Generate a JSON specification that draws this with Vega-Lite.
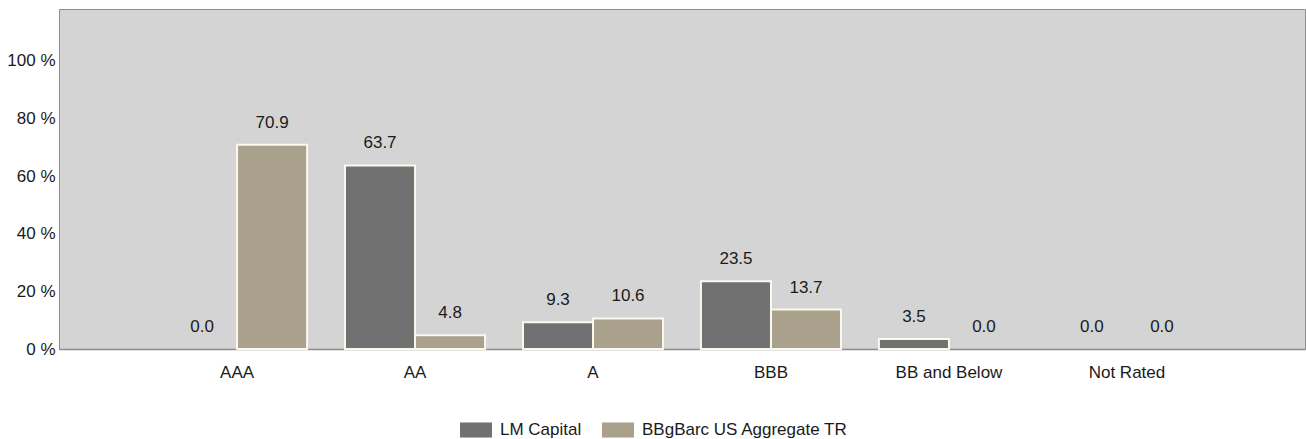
{
  "$schema": "https://vega.github.io/schema/vega-lite/v6.json",
  "width": 1246,
  "height": 340,
  "autosize": {"type": "none"},
  "padding": {"left": 59, "top": 9, "right": 1, "bottom": 90},
  "background": "#ffffff",
  "config": {
    "font": "Liberation Sans",
    "view": {"fill": "#d4d4d4", "stroke": "#8e8e8e", "strokeWidth": 1}
  },
  "data": {
    "values": [
      {"rating": "AAA", "series": "LM Capital", "value": 0.0},
      {"rating": "AAA", "series": "BBgBarc US Aggregate TR", "value": 70.9},
      {"rating": "AA", "series": "LM Capital", "value": 63.7},
      {"rating": "AA", "series": "BBgBarc US Aggregate TR", "value": 4.8},
      {"rating": "A", "series": "LM Capital", "value": 9.3},
      {"rating": "A", "series": "BBgBarc US Aggregate TR", "value": 10.6},
      {"rating": "BBB", "series": "LM Capital", "value": 23.5},
      {"rating": "BBB", "series": "BBgBarc US Aggregate TR", "value": 13.7},
      {"rating": "BB and Below", "series": "LM Capital", "value": 3.5},
      {"rating": "BB and Below", "series": "BBgBarc US Aggregate TR", "value": 0.0},
      {"rating": "Not Rated", "series": "LM Capital", "value": 0.0},
      {"rating": "Not Rated", "series": "BBgBarc US Aggregate TR", "value": 0.0}
    ]
  },
  "encoding": {
    "x": {
      "field": "rating",
      "type": "nominal",
      "sort": null,
      "scale": {"paddingInner": 0.213, "paddingOuter": 0.607},
      "axis": {
        "title": null,
        "labelAngle": 0,
        "labelFontSize": 17,
        "labelColor": "#1a1a1a",
        "labelPadding": 15,
        "ticks": false,
        "domainColor": "#8a8a8a",
        "domainWidth": 1.5
      }
    },
    "xOffset": {
      "field": "series",
      "type": "nominal",
      "sort": ["LM Capital", "BBgBarc US Aggregate TR"],
      "scale": {"paddingInner": 0, "paddingOuter": 0}
    },
    "y": {
      "field": "value",
      "type": "quantitative",
      "scale": {"domain": [0, 118], "nice": false},
      "axis": {
        "title": null,
        "values": [0, 20, 40, 60, 80, 100],
        "labelExpr": "datum.value + ' %'",
        "labelFontSize": 17,
        "labelColor": "#1a1a1a",
        "labelPadding": 4,
        "ticks": false,
        "domain": false,
        "grid": false
      }
    }
  },
  "layer": [
    {
      "mark": {"type": "bar", "stroke": "#fbf8ee"},
      "encoding": {
        "strokeWidth": {"condition": {"test": "datum.value == 0", "value": 0}, "value": 2},
        "color": {
          "field": "series",
          "type": "nominal",
          "sort": ["LM Capital", "BBgBarc US Aggregate TR"],
          "scale": {"domain": ["LM Capital", "BBgBarc US Aggregate TR"], "range": ["#717171", "#a9a18c"]},
          "legend": {
            "title": null,
            "orient": "none",
            "direction": "horizontal",
            "legendX": 401,
            "legendY": 405,
            "symbolType": "M-1,-0.47L1,-0.47L1,0.47L-1,0.47Z",
            "symbolSize": 1024,
            "symbolStrokeWidth": 0,
            "symbolOpacity": 1,
            "labelFontSize": 17,
            "labelColor": "#1a1a1a",
            "labelOffset": 8,
            "labelLimit": 400,
            "columnPadding": 20
          }
        }
      }
    },
    {
      "mark": {"type": "text", "baseline": "alphabetic", "dy": -17, "fontSize": 17, "color": "#1a1a1a"},
      "encoding": {
        "text": {"field": "value", "type": "quantitative", "format": ".1f"}
      }
    }
  ]
}
